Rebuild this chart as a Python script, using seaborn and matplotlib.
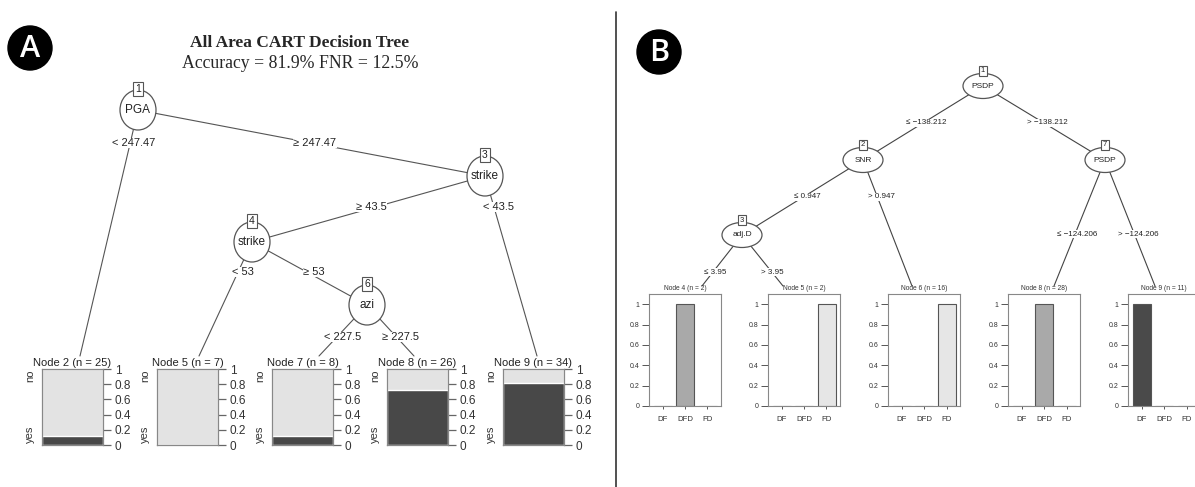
import matplotlib
matplotlib.use("Agg")
import matplotlib.pyplot as plt
from matplotlib.patches import Ellipse, Circle
import pandas as pd
import seaborn as sns

sns.set_style("white")
plt.rcParams["font.family"] = ["Liberation Sans", "DejaVu Sans"]

# ---------------- data: panel A (rpart tree, yes/no leaves)
a_title = "All Area CART Decision Tree"
a_subtitle = "Accuracy = 81.9% FNR = 12.5%"
a_split_ids = [1, 3, 4, 6]
a_split_vars = ["PGA", "strike", "strike", "azi"]
a_edge_labels = ["< 247.47", "≥ 247.47", "≥ 43.5", "< 43.5", "< 53", "≥ 53", "< 227.5", "≥ 227.5"]
a_leaf_ids = [2, 5, 7, 8, 9]
a_leaf_n = [25, 7, 8, 26, 34]
a_leaf_yes = [0.12, 0.0, 0.125, 0.72, 0.82]
a_yticks = [0, 0.2, 0.4, 0.6, 0.8, 1]
a_yticklabels = ["0", "0.2", "0.4", "0.6", "0.8", "1"]

# ---------------- data: panel B (ctree, 3-class leaves)
b_split_ids = [1, 2, 7, 3]
b_split_vars = ["PSDP", "SNR", "PSDP", "adj.D"]
b_edge_labels = ["≤ −138.212", "> −138.212", "≤ 0.947", "> 0.947",
                 "≤ −124.206", "> −124.206", "≤ 3.95", "> 3.95"]
b_leaf_ids = [4, 5, 6, 8, 9]
b_leaf_n = [2, 2, 16, 28, 11]
b_classes = ["DF", "DFD", "FD"]
b_leaf_props = [[0, 1, 0], [0, 0, 1], [0, 0, 1], [0, 1, 0], [1, 0, 0]]

# ---------------- layout (pixels, origin top-left)
W, H = 1195, 487
a_split_xy = [(138, 110), (485, 176), (252, 242), (367, 305)]
a_leaf_left = [42, 157, 272, 387, 503]
a_leaf_top = [80, 199, 319, 414, 537]  # x where edge meets the leaf title
a_edges = [(0, ("leaf", 0)), (0, ("node", 1)), (1, ("node", 2)), (1, ("leaf", 4)),
           (2, ("leaf", 1)), (2, ("node", 3)), (3, ("leaf", 2)), (3, ("leaf", 3))]
a_label_xy = [(134, 143), (315, 143), (371, 207), (499, 207),
              (243, 272), (314, 272), (343, 337), (401, 337)]

b_split_xy = [(983, 86), (863, 160), (1105, 160), (742, 235)]
b_leaf_left = [649, 768, 888, 1008, 1128]
b_leaf_top = [702, 783, 912, 1054, 1155]
b_edges = [(0, ("node", 1)), (0, ("node", 2)), (1, ("node", 3)), (1, ("leaf", 2)),
           (2, ("leaf", 3)), (2, ("leaf", 4)), (3, ("leaf", 0)), (3, ("leaf", 1))]
b_label_xy = [(926, 123), (1047, 123), (807, 197), (881, 197),
              (1077, 234), (1138, 234), (715, 272), (772, 272)]

light, dark = "#e3e3e3", "#484848"
b_palette = {"DF": "#4a4a4a", "DFD": "#a9a9a9", "FD": "#e6e6e6"}

fig = plt.figure(figsize=(W / 100, H / 100), dpi=100)
bg = fig.add_axes([0, 0, 1, 1])
bg.set_xlim(0, W)
bg.set_ylim(H, 0)
bg.axis("off")

# panel badges and divider
for (cx, cy), letter in [((30, 48), "A"), ((659, 52), "B")]:
    bg.add_patch(Circle((cx, cy), 22, fc="black", ec="black"))
    bg.text(cx, cy + 1, letter, color="white", fontsize=22, ha="center", va="center",
            family=["Open Sans", "DejaVu Sans"], fontweight="semibold")
bg.plot([616, 616], [12, H], color="#333333", lw=1.2)

bg.text(300, 43, a_title, family=["Liberation Serif"], fontweight="bold",
        fontsize=12.5, ha="center", va="center")
bg.text(300, 63, a_subtitle, family=["Liberation Serif"], fontsize=12.8,
        ha="center", va="center")


def draw_tree(split_xy, split_ids, split_vars, edges, labels, label_xy, leaf_top,
              leaf_y, ew, eh, id_dy, fs_var, fs_id, fs_lab, lcol):
    for (p, (kind, c)), lab, (lx, ly) in zip(edges, labels, label_xy):
        x0, y0 = split_xy[p]
        x1, y1 = split_xy[c] if kind == "node" else (leaf_top[c], leaf_y)
        bg.plot([x0, x1], [y0, y1], color=lcol, lw=0.8, zorder=1)
        bg.text(lx, ly, lab, fontsize=fs_lab, ha="center", va="center", color="#222222",
                bbox=dict(fc="white", ec="none", pad=0.3), zorder=3)
    for (x, y), nid, var in zip(split_xy, split_ids, split_vars):
        bg.add_patch(Ellipse((x, y), ew, eh, fc="white", ec="#555555", lw=0.9, zorder=4))
        bg.text(x, y, var, fontsize=fs_var, ha="center", va="center", color="#222222", zorder=5)
        bg.text(x, y - id_dy, str(nid), fontsize=fs_id, ha="center", va="center", zorder=6,
                color="#222222", bbox=dict(boxstyle="square,pad=0.2", fc="white", ec="#555555", lw=0.8))


draw_tree(a_split_xy, a_split_ids, a_split_vars, a_edges, a_edge_labels, a_label_xy,
          a_leaf_top, 356, 36, 40, 21, 8.5, 7.5, 8, "#555555")
draw_tree(b_split_xy, b_split_ids, b_split_vars, b_edges, b_edge_labels, b_label_xy,
          b_leaf_top, 286, 40, 25, 15, 6, 5.5, 5.8, "#444444")

# ---------------- panel A leaves: stacked yes/no bars
a_top, a_bot, a_w = 369, 445, 61
for left, nid, n, yes in zip(a_leaf_left, a_leaf_ids, a_leaf_n, a_leaf_yes):
    ax = fig.add_axes([left / W, 1 - a_bot / H, a_w / W, (a_bot - a_top) / H])
    sns.barplot(x=[0], y=[1.0], color=light, width=1, saturation=1, ax=ax)
    sns.barplot(x=[0], y=[yes], color=dark, width=1, saturation=1, ax=ax)
    ax.set_xlim(-0.5, 0.5)
    ax.set_ylim(0, 1)
    ax.set_xticks([])
    ax.yaxis.tick_right()
    ax.set_yticks(a_yticks)
    ax.set_yticklabels(a_yticklabels)
    ax.tick_params(axis="y", length=5.5, width=0.9, color="#666666", labelsize=8.5,
                   labelcolor="#333333", pad=3, right=True, left=False)
    for s in ax.spines.values():
        s.set_color("#888888")
        s.set_linewidth(0.9)
    ax.set_xlabel("")
    ax.set_ylabel("")
    cx = left + a_w / 2
    bg.text(cx, 363, f"Node {nid} (n = {n})", fontsize=8, ha="center", va="center", color="#222222")
    bg.text(left - 12, 376, "no", fontsize=8, rotation=90, ha="center", va="center", color="#333333")
    bg.text(left - 12, 434, "yes", fontsize=8, rotation=90, ha="center", va="center", color="#333333")

# ---------------- panel B leaves: class proportion bars
b_top, b_bot, b_w = 294, 406, 72
for left, nid, n, props in zip(b_leaf_left, b_leaf_ids, b_leaf_n, b_leaf_props):
    ax = fig.add_axes([left / W, 1 - b_bot / H, b_w / W, (b_bot - b_top) / H])
    df = pd.DataFrame({"cls": b_classes, "prop": props})
    sns.barplot(data=df, x="cls", y="prop", hue="cls", palette=b_palette, legend=False,
                width=0.8, saturation=1, edgecolor="#555555", linewidth=0.8, ax=ax)
    ax.set_xlim(-0.6, 2.6)
    ax.set_ylim(0, 1.1)
    ax.set_yticks(a_yticks)
    ax.set_yticklabels(a_yticklabels)
    ax.tick_params(axis="y", length=5, width=0.7, color="#555555", labelsize=5,
                   labelcolor="#333333", pad=2, left=True)
    ax.tick_params(axis="x", length=2.5, width=0.7, color="#555555", labelsize=5.6,
                   labelcolor="#333333", pad=5, bottom=True)
    for s in ax.spines.values():
        s.set_color("#888888")
        s.set_linewidth(0.8)
    ax.set_xlabel("")
    ax.set_ylabel("")
    bg.text(left + b_w / 2, 289, f"Node {nid} (n = {n})", fontsize=4.8, ha="center",
            va="center", color="#333333")

fig.savefig("out.png", dpi=100)
